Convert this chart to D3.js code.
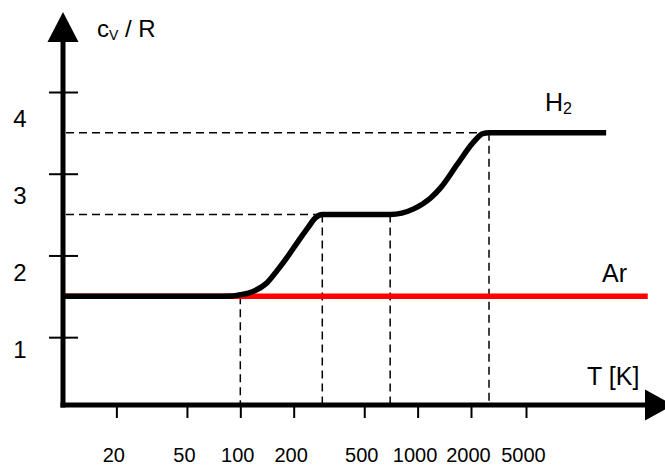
<!DOCTYPE html>
<html>
<head>
<meta charset="utf-8">
<script src="https://cdn.jsdelivr.net/npm/d3@7"></script>
<style>
  body { margin: 0; background: #fff; }
  svg { display: block; font-family: "Liberation Sans", Arial, sans-serif; }
</style>
</head>
<body>
<svg id="chart" width="665" height="466"></svg>
<script>
// temperature in K, c_V / R
const h2Temps = [10, 70, 90, 100, 118, 142, 162, 184, 210, 239, 265, 290, 700, 950, 1180, 1350, 1680, 2070, 2440, 2700, 19000];
const h2Values = [1.5, 1.5, 1.505, 1.52, 1.56, 1.67, 1.82, 1.98, 2.16, 2.33, 2.46, 2.5, 2.5, 2.57, 2.70, 2.83, 3.12, 3.38, 3.49, 3.5, 3.5];
const arTemps = [10, 38000];
const arValues = [1.5, 1.5];

const xTicks = [20, 50, 100, 200, 500, 1000, 2000, 5000];
const yTicks = [1, 2, 3, 4];

// dashed guides: [T, c_V/R]
const hGuides = [[290, 2.5], [2700, 3.5]];
const vGuides = [[100, 1.5], [290, 2.5], [700, 2.5], [2700, 3.5]];

const svg = d3.select('#chart');
const W = 665;

const x = d3.scaleLog()
  .domain([10, 2000, 5000])
  .range([63, 471, 526]);

const yMin = 0.17;
const y = d3.scaleLinear()
  .domain([yMin, 4])
  .range([405, 92]);

// tick labels sit a bit below their ticks in the original
const yLabel = d3.scaleLinear()
  .domain([1, 4])
  .range([358, 127]);

const x0 = x(10);
const yAxisPos = y(yMin);

// guides
const guides = svg.append('g')
  .attr('stroke', '#000')
  .attr('stroke-width', 1.5)
  .attr('stroke-dasharray', '8,5')
  .attr('fill', 'none');

guides.selectAll('.hg')
  .data(hGuides)
  .enter().append('line')
  .attr('x1', x0 + 3)
  .attr('x2', d => x(d[0]))
  .attr('y1', d => y(d[1]))
  .attr('y2', d => y(d[1]));

guides.selectAll('.vg')
  .data(vGuides)
  .enter().append('line')
  .attr('x1', d => x(d[0]))
  .attr('x2', d => x(d[0]))
  .attr('y1', d => y(d[1]))
  .attr('y2', yAxisPos);

// curves
const line = d3.line()
  .x(d => x(d[0]))
  .y(d => y(d[1]))
  .curve(d3.curveMonotoneX);

svg.append('path')
  .datum(arTemps.map((t, i) => [t, arValues[i]]))
  .attr('fill', 'none')
  .attr('stroke', '#ff0000')
  .attr('stroke-width', 5.5)
  .attr('d', line);

svg.append('path')
  .datum(h2Temps.map((t, i) => [t, h2Values[i]]))
  .attr('fill', 'none')
  .attr('stroke', '#000')
  .attr('stroke-width', 5.5)
  .attr('d', line);

// axes
const xAxis = svg.append('g')
  .attr('transform', 'translate(0,' + yAxisPos + ')')
  .call(d3.axisBottom(x)
    .tickValues(xTicks)
    .tickSize(13)
    .tickPadding(30)
    .tickFormat(d3.format('d')));

xAxis.select('.domain').remove();
xAxis.selectAll('line').attr('stroke-width', 2);
xAxis.selectAll('text')
  .attr('dx', -3)
  .attr('font-size', 20)
  .attr('font-family', '"Liberation Sans", Arial, sans-serif')
  .attr('fill', '#000');

const yAxis = svg.append('g')
  .attr('transform', 'translate(' + (x0 + 15) + ',0)')
  .call(d3.axisLeft(y)
    .tickValues(yTicks)
    .tickSize(29)
    .tickFormat(''));

yAxis.select('.domain').remove();
yAxis.selectAll('line').attr('stroke-width', 2);

svg.selectAll('.ylab')
  .data(yTicks)
  .enter().append('text')
  .attr('x', 20)
  .attr('y', d => yLabel(d))
  .attr('text-anchor', 'middle')
  .attr('font-size', 24)
  .text(d => d);

// thick axis lines with arrow heads
svg.append('line')
  .attr('x1', x0)
  .attr('x2', x0)
  .attr('y1', 40)
  .attr('y2', yAxisPos + 2.5)
  .attr('stroke', '#000')
  .attr('stroke-width', 5);

svg.append('line')
  .attr('x1', x0 - 2.5)
  .attr('x2', W - 18)
  .attr('y1', yAxisPos)
  .attr('y2', yAxisPos)
  .attr('stroke', '#000')
  .attr('stroke-width', 5);

svg.append('path')
  .attr('d', `M${x0 - 15.5},42 L${x0},12 L${x0 + 15.5},42 Z`)
  .attr('fill', '#000');

svg.append('path')
  .attr('d', `M${W - 20},${yAxisPos - 15.5} L${W + 8},${yAxisPos} L${W - 20},${yAxisPos + 15.5} Z`)
  .attr('fill', '#000');

// labels
const yTitle = svg.append('text')
  .attr('x', 97)
  .attr('y', 37)
  .attr('font-size', 24);
yTitle.append('tspan').text('c');
yTitle.append('tspan').attr('font-size', 14).attr('dy', 3).text('V');
yTitle.append('tspan').attr('dy', -3).text(' / R');

svg.append('text')
  .attr('x', 587)
  .attr('y', 385)
  .attr('font-size', 25)
  .text('T [K]');

svg.append('text')
  .attr('x', 602)
  .attr('y', 282)
  .attr('font-size', 25)
  .text('Ar');

const h2Label = svg.append('text')
  .attr('x', 545)
  .attr('y', 111)
  .attr('font-size', 25);
h2Label.append('tspan').text('H');
h2Label.append('tspan').attr('font-size', 16).attr('dy', 3).text('2');
</script>
</body>
</html>
